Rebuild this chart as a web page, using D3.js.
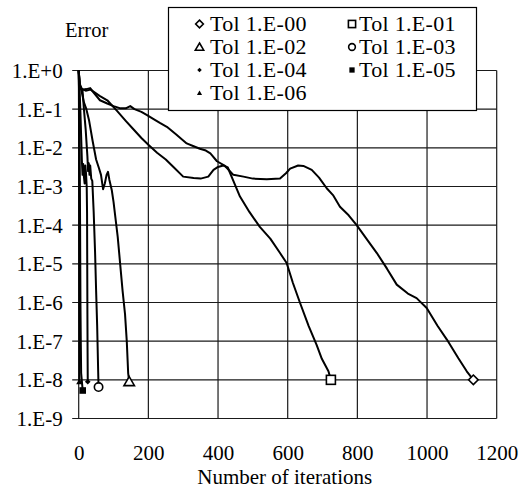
<!DOCTYPE html>
<html>
<head>
<meta charset="utf-8">
<script src="https://cdn.jsdelivr.net/npm/d3@7"></script>
</head>
<body style="margin:0;background:#fff">
<svg id="chart" width="520" height="491"></svg>
<script>
// ---------- data ----------
const seriesNames = ["Tol 1.E-00", "Tol 1.E-01", "Tol 1.E-02", "Tol 1.E-03", "Tol 1.E-04", "Tol 1.E-05", "Tol 1.E-06"];

const iterTol0 = [0, 3, 10, 22, 33, 44, 61, 82, 100, 120, 135, 148, 160, 180, 195, 215, 233, 253, 280, 310, 330, 348, 365, 378, 397, 420, 444, 473, 500, 540, 578, 595, 607, 630, 645, 669, 690, 712, 730, 750, 775, 798, 830, 856, 885, 913, 945, 970, 999, 1030, 1057, 1075, 1090, 1114, 1133];
const errTol0  = [1, 0.45, 0.32, 0.33, 0.35, 0.26, 0.17, 0.14, 0.12, 0.105, 0.105, 0.12, 0.1, 0.085, 0.071, 0.055, 0.044, 0.035, 0.022, 0.013, 0.011, 0.0095, 0.0085, 0.0072, 0.0045, 0.0034, 0.002, 0.0018, 0.0016, 0.00155, 0.0016, 0.0022, 0.0029, 0.0035, 0.0034, 0.0027, 0.0017, 0.0009, 0.0006, 0.0003, 0.00018, 0.0001, 0.00004, 0.000019, 0.0000075, 0.0000029, 0.0000017, 0.0000013, 0.00000072, 0.00000025, 0.00000011, 0.00000006, 0.000000036, 0.0000000166, 0.00000001];

const iterTol1 = [0, 4, 20, 34, 60, 82, 110, 135, 159, 180, 200, 225, 250, 272, 300, 330, 350, 372, 387, 400, 415, 428, 444, 463, 490, 520, 550, 578, 597, 615, 635, 660, 683, 698, 717, 724];
const errTol1  = [1, 0.35, 0.3, 0.32, 0.22, 0.17, 0.09, 0.05, 0.029, 0.018, 0.012, 0.0075, 0.005, 0.0032, 0.0018, 0.00165, 0.0016, 0.0018, 0.0027, 0.0032, 0.0035, 0.0031, 0.0014, 0.00055, 0.00022, 0.00009, 0.000045, 0.000019, 0.0000105, 0.0000032, 0.000001, 0.00000025, 0.00000008, 0.000000035, 0.0000000166, 0.00000001];

const iterTol2 = [0, 3, 8, 15, 22, 30, 40, 50, 58, 64, 70, 75, 80, 84, 88, 95, 100, 104, 112, 119, 126, 133, 138, 142, 145];
const errTol2  = [1, 0.4, 0.3, 0.15, 0.1, 0.05, 0.015, 0.005, 0.003, 0.002, 0.00085, 0.0012, 0.002, 0.0024, 0.0015, 0.0008, 0.0004, 0.0002, 0.00005, 0.00001, 0.000002, 0.0000005, 0.0000001, 0.000000015, 0.000000009];

const iterTol3 = [0, 2, 5, 11, 15, 20, 25, 27, 29, 31, 33, 36, 39, 43, 47, 50, 53, 56, 57];
const errTol3  = [1, 0.5, 0.35, 0.3, 0.1, 0.03, 0.006, 0.0025, 0.004, 0.002, 0.0035, 0.0016, 0.0014, 0.00022, 0.00002, 0.000002, 0.00000025, 0.000000015, 0.0000000065];

const iterTol4 = [0, 1, 3, 5, 7, 9, 11, 13, 15, 17, 19, 21, 23, 24, 24.5, 25, 25.5, 26];
const errTol4  = [1, 0.5, 0.25, 0.08, 0.02, 0.005, 0.002, 0.0038, 0.0018, 0.0012, 0.0035, 0.0022, 0.001, 0.0002, 0.00001, 0.0000005, 0.00000005, 0.0000000089];

const iterTol5 = [0, 1, 2, 3, 4, 5, 6, 7, 11.5];
const errTol5  = [1, 0.3, 0.05, 0.003, 0.0001, 0.000001, 0.0000001, 0.000000015, 0.0000000053];

const iterTol6 = [0, 0.5, 1, 1.5, 2];
const errTol6  = [1, 0.4, 0.02, 0.00001, 0.0000000089];

const xTickValues = [0, 200, 400, 600, 800, 1000, 1200];
const yTickValues = [1, 1e-1, 1e-2, 1e-3, 1e-4, 1e-5, 1e-6, 1e-7, 1e-8, 1e-9];
const yTickLabels = ["1.E+0", "1.E-1", "1.E-2", "1.E-3", "1.E-4", "1.E-5", "1.E-6", "1.E-7", "1.E-8", "1.E-9"];

const seriesIter = [iterTol0, iterTol1, iterTol2, iterTol3, iterTol4, iterTol5, iterTol6];
const seriesErr  = [errTol0, errTol1, errTol2, errTol3, errTol4, errTol5, errTol6];

// ---------- layout ----------
const FONT = "Liberation Serif";
const svg = d3.select("#chart");
const plot = { left: 78.7, right: 496.7, top: 70.5, bottom: 418.5 };

const x = d3.scaleLinear().domain([0, 1200]).range([plot.left, plot.right]);
const y = d3.scaleLog().domain([1e-9, 1]).range([plot.bottom, plot.top]);

const gridColor = "#1a1a1a";

svg.append("g").selectAll("line").data(xTickValues).join("line")
  .attr("x1", d => x(d)).attr("x2", d => x(d))
  .attr("y1", plot.top).attr("y2", plot.bottom)
  .attr("stroke", gridColor).attr("stroke-width", 1.2);

svg.append("g").selectAll("line").data(yTickValues).join("line")
  .attr("x1", plot.left - 6.5).attr("x2", plot.right)
  .attr("y1", d => y(d)).attr("y2", d => y(d))
  .attr("stroke", gridColor).attr("stroke-width", 1.2);

const yAxis = d3.axisLeft(y).tickValues(yTickValues)
  .tickFormat((d, i) => yTickLabels[i]).tickSize(0).tickPadding(0);
const gy = svg.append("g").attr("transform", `translate(${plot.left - 16},0)`).call(yAxis);
gy.attr("font-family", FONT).attr("font-size", 21);
gy.select(".domain").remove();
gy.selectAll("text").attr("font-family", FONT).attr("font-size", 21).attr("fill", "#000").attr("dy", "0.33em");

const xAxis = d3.axisBottom(x).tickValues(xTickValues).tickFormat(d3.format("d")).tickSize(0).tickPadding(0);
const gx = svg.append("g").attr("transform", `translate(0,${plot.bottom + 27})`).call(xAxis);
gx.attr("font-family", FONT).attr("font-size", 21);
gx.select(".domain").remove();
gx.selectAll("text").attr("font-family", FONT).attr("font-size", 21).attr("fill", "#000").attr("dy", "0.71em");

svg.append("text").attr("x", 65).attr("y", 37).attr("font-family", FONT).attr("font-size", 20.5).text("Error");
svg.append("text").attr("x", (plot.left + plot.right) / 2 - 3).attr("y", 484)
  .attr("text-anchor", "middle").attr("font-family", FONT).attr("font-size", 21).text("Number of iterations");

// ---------- curves ----------
const line = d3.line().x(d => x(d[0])).y(d => y(d[1]));
const curveG = svg.append("g");
seriesIter.forEach((its, k) => {
  const pts = its.map((v, i) => [v, seriesErr[k][i]]);
  curveG.append("path").datum(pts).attr("d", line)
    .attr("fill", "none").attr("stroke", "#000").attr("stroke-width", 2)
    .attr("stroke-linejoin", "round");
});

function diamondPath(cx, cy, h) { return `M${cx},${cy - h}L${cx + h},${cy}L${cx},${cy + h}L${cx - h},${cy}Z`; }
function drawMarker(g, k, cx, cy, s) {
  if (k === 0) {
    g.append("path").attr("d", diamondPath(cx, cy, 4.8 * s))
      .attr("fill", "#fff").attr("stroke", "#000").attr("stroke-width", 1.6);
  } else if (k === 1) {
    const h = 4.5 * s;
    g.append("rect").attr("x", cx - h).attr("y", cy - h).attr("width", 2 * h).attr("height", 2 * h)
      .attr("fill", "#fff").attr("stroke", "#000").attr("stroke-width", 1.6);
  } else if (k === 2) {
    const h = 5 * s;
    g.append("path").attr("d", `M${cx},${cy - h}L${cx + h * 1.05},${cy + h * 0.8}L${cx - h * 1.05},${cy + h * 0.8}Z`)
      .attr("fill", "#fff").attr("stroke", "#000").attr("stroke-width", 1.6);
  } else if (k === 3) {
    g.append("circle").attr("cx", cx).attr("cy", cy).attr("r", 4.2 * s)
      .attr("fill", "#fff").attr("stroke", "#000").attr("stroke-width", 1.6);
  } else if (k === 4) {
    g.append("path").attr("d", diamondPath(cx, cy, 2.8 * s)).attr("fill", "#000");
  } else if (k === 5) {
    const h = 3.3 * s;
    g.append("rect").attr("x", cx - h).attr("y", cy - h).attr("width", 2 * h).attr("height", 2 * h)
      .attr("fill", "#000");
  } else {
    const h = 3.2 * s;
    g.append("path").attr("d", `M${cx},${cy - h}L${cx + h},${cy + h * 0.8}L${cx - h},${cy + h * 0.8}Z`)
      .attr("fill", "#000");
  }
}

const markG = svg.append("g");
seriesIter.forEach((its, k) => {
  const n = its.length - 1;
  drawMarker(markG, k, x(its[n]), y(seriesErr[k][n]), 1);
});

// ---------- legend ----------
const legend = svg.append("g");
legend.append("rect").attr("x", 168.5).attr("y", 7.5).attr("width", 308).attr("height", 103)
  .attr("fill", "#fff").attr("stroke", "#000").attr("stroke-width", 1.2);
const rowBase = [31, 54, 77, 100];
seriesNames.forEach((name, k) => {
  const col = k % 2, row = Math.floor(k / 2);
  const mx = col === 0 ? 199.5 : 352;
  const tx = col === 0 ? 210 : 359;
  const by = rowBase[row];
  drawMarker(legend, k, mx, by - 7, 0.8);
  legend.append("text").attr("x", tx).attr("y", by).attr("font-family", FONT).attr("font-size", 22)
    .attr("letter-spacing", 0.3).text(name);
});
</script>
</body>
</html>
